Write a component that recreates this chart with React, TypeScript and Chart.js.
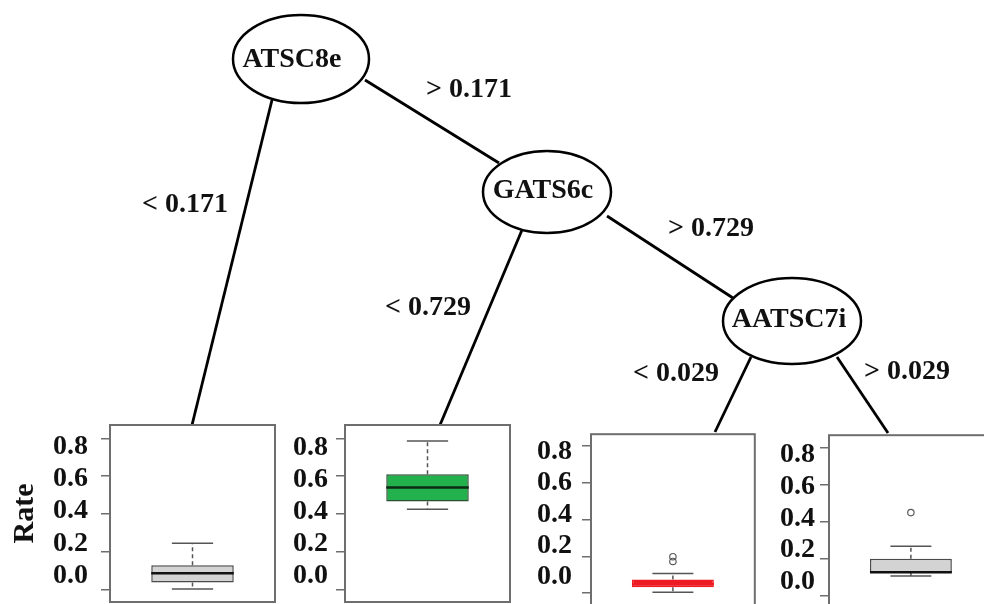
import React, { useEffect, useRef } from 'react';
import { Chart, registerables } from 'chart.js';

Chart.register(...registerables);

// ---------------- data ----------------
const splitVariables = ['ATSC8e', 'GATS6c', 'AATSC7i'];
const splitThresholds = [0.171, 0.729, 0.029];
const edgeParents = [0, 0, 1, 1, 2, 2];
const edgeSides = ['<', '>', '<', '>', '<', '>'];
const leafIds = ['Node 2', 'Node 4', 'Node 6', 'Node 7'];
const whiskerLow = [0.005, 0.426, 0.005, 0.107];
const quartile1 = [0.04, 0.467, 0.032, 0.125];
const medians = [0.088, 0.54, 0.05, 0.127];
const quartile3 = [0.13, 0.61, 0.074, 0.2];
const whiskerHigh = [0.246, 0.786, 0.106, 0.267];
const outliers: number[][] = [[], [], [0.198, 0.172], [0.449]];
const yTickValues = [0, 0.2, 0.4, 0.6, 0.8];
const yAxisTitle = 'Rate';

// ---------------- layout & style ----------------
const FONT = "'Liberation Serif', 'Times New Roman', serif";
const W = 984;
const H = 604;
const TICK = 9;
const PAD = 3;
const LABEL_SIZE = 28;

const NODE_LAYOUT = [
  { cx: 301, cy: 59, rx: 68, ry: 44, tx: 292, ty: 60 },
  { cx: 547, cy: 192, rx: 64, ry: 41, tx: 543, ty: 191 },
  { cx: 792, cy: 321, rx: 69, ry: 43, tx: 789, ty: 320 },
];

const EDGE_LAYOUT = [
  { x1: 272, y1: 100, x2: 192, y2: 425, lx: 185, ly: 205 },
  { x1: 365, y1: 80, x2: 499, y2: 163, lx: 469, ly: 90 },
  { x1: 522, y1: 230, x2: 440, y2: 425, lx: 428, ly: 308 },
  { x1: 607, y1: 216, x2: 733, y2: 298, lx: 711, ly: 229 },
  { x1: 751, y1: 357, x2: 715, y2: 432, lx: 676, ly: 374 },
  { x1: 837, y1: 357, x2: 888, y2: 433, lx: 907, ly: 372 },
];

const PANEL_LAYOUT = [
  { left: 110, top: 425, width: 165, height: 177, tick08: 438.3, tick00: 590, lab08: 447, lab00: 575.5, gap: 13, axisW: 101 },
  { left: 345, top: 425, width: 165, height: 177, tick08: 438.3, tick00: 590, lab08: 447.3, lab00: 575.7, gap: 8, axisW: 52 },
  { left: 591, top: 432, width: 166, height: 176, tick08: 444, tick00: 595, lab08: 450, lab00: 578.3, gap: 10, axisW: 52 },
  { left: 829, top: 433, width: 166, height: 177, tick08: 445.7, tick00: 597.7, lab08: 453.3, lab00: 583.3, gap: 5, axisW: 52 },
];

const PANEL_STYLE = [
  { fill: '#d3d3d3', stroke: '#4a4a4a', median: '#111111', whisker: '#555555' },
  { fill: '#22b14c', stroke: '#2b4f33', median: '#0d2a14', whisker: '#555555' },
  { fill: '#ed1c24', stroke: '#ed1c24', median: '#ed1c24', whisker: '#555555' },
  { fill: '#d3d3d3', stroke: '#4a4a4a', median: '#111111', whisker: '#555555' },
];

// ---------------- tree ----------------
function TreeChart() {
  const ref = useRef<HTMLCanvasElement>(null);
  useEffect(() => {
    if (!ref.current) return;
    const treePlugin = {
      id: 'treeNodes',
      afterDatasetsDraw(chart: any) {
        const { ctx } = chart;
        const xs = chart.scales.x;
        const ys = chart.scales.y;
        ctx.save();
        NODE_LAYOUT.forEach((n, i) => {
          const cx = xs.getPixelForValue(n.cx);
          const cy = ys.getPixelForValue(n.cy);
          const rx = Math.abs(xs.getPixelForValue(n.cx + n.rx) - cx);
          const ry = Math.abs(ys.getPixelForValue(n.cy + n.ry) - cy);
          ctx.beginPath();
          ctx.ellipse(cx, cy, rx, ry, 0, 0, Math.PI * 2);
          ctx.fillStyle = '#ffffff';
          ctx.fill();
          ctx.lineWidth = 2.5;
          ctx.strokeStyle = '#000000';
          ctx.stroke();
          ctx.fillStyle = '#111111';
          ctx.font = `bold ${LABEL_SIZE}px ${FONT}`;
          ctx.textAlign = 'center';
          ctx.textBaseline = 'middle';
          ctx.fillText(splitVariables[i], xs.getPixelForValue(n.tx), ys.getPixelForValue(n.ty));
        });
        EDGE_LAYOUT.forEach((e, i) => {
          const txt = `${edgeSides[i]} ${splitThresholds[edgeParents[i]].toFixed(3)}`;
          ctx.fillStyle = '#111111';
          ctx.font = `bold ${LABEL_SIZE}px ${FONT}`;
          ctx.textAlign = 'center';
          ctx.textBaseline = 'middle';
          ctx.fillText(txt, xs.getPixelForValue(e.lx), ys.getPixelForValue(e.ly));
        });
        ctx.restore();
      },
    };
    const datasets = EDGE_LAYOUT.map((e) => ({
      type: 'scatter' as const,
      data: [
        { x: e.x1, y: e.y1 },
        { x: e.x2, y: e.y2 },
      ],
      showLine: true,
      borderColor: '#000000',
      borderWidth: 2.8,
      pointRadius: 0,
    }));
    const chart = new Chart(ref.current, {
      type: 'scatter',
      data: { datasets },
      options: {
        responsive: false,
        animation: false,
        devicePixelRatio: 1,
        layout: { padding: 0 },
        plugins: { legend: { display: false }, tooltip: { enabled: false } },
        scales: {
          x: { type: 'linear', min: 0, max: W, display: false },
          y: { type: 'linear', min: 0, max: H, reverse: true, display: false },
        },
      } as any,
      plugins: [treePlugin],
    });
    return () => chart.destroy();
  }, []);
  return (
    <canvas
      ref={ref}
      width={W}
      height={H}
      style={{ position: 'absolute', left: 0, top: 0, width: W, height: H, display: 'block' }}
    />
  );
}

// ---------------- leaf boxplots ----------------
function LeafPanel({ i }: { i: number }) {
  const ref = useRef<HTMLCanvasElement>(null);
  const L = PANEL_LAYOUT[i];
  const S = PANEL_STYLE[i];
  const canvasLeft = L.left - TICK - L.axisW;
  const cw = L.axisW + TICK + L.width + PAD;
  const ch = L.height + 2 * PAD;

  useEffect(() => {
    if (!ref.current) return;
    const ppu = (L.tick00 - L.tick08) / 0.8;
    const yMax = 0.8 + (L.tick08 - L.top) / ppu;
    const yMin = -(L.top + L.height - L.tick00) / ppu;
    const lppu = (L.lab00 - L.lab08) / 0.8;
    const y2Max = 0.8 + (L.lab08 - L.top) / lppu;
    const y2Min = -(L.top + L.height - L.lab00) / lppu;

    const boxPlugin = {
      id: 'boxWhiskers',
      beforeDatasetsDraw(chart: any) {
        const bar = chart.getDatasetMeta(0).data[0];
        if (!bar) return;
        const ys = chart.scales.y;
        const { ctx } = chart;
        const cx = bar.x;
        const hw = bar.width / 4;
        const pHi = ys.getPixelForValue(whiskerHigh[i]);
        const pLo = ys.getPixelForValue(whiskerLow[i]);
        const pQ3 = ys.getPixelForValue(quartile3[i]);
        const pQ1 = ys.getPixelForValue(quartile1[i]);
        ctx.save();
        ctx.strokeStyle = S.whisker;
        ctx.lineWidth = 1.5;
        ctx.setLineDash([4, 3]);
        ctx.beginPath();
        ctx.moveTo(cx, pQ3);
        ctx.lineTo(cx, pHi);
        ctx.moveTo(cx, pQ1);
        ctx.lineTo(cx, pLo);
        ctx.stroke();
        ctx.setLineDash([]);
        ctx.beginPath();
        ctx.moveTo(cx - hw, pHi);
        ctx.lineTo(cx + hw, pHi);
        ctx.moveTo(cx - hw, pLo);
        ctx.lineTo(cx + hw, pLo);
        ctx.stroke();
        ctx.restore();
      },
      afterDatasetsDraw(chart: any) {
        const bar = chart.getDatasetMeta(0).data[0];
        if (!bar) return;
        const ys = chart.scales.y;
        const { ctx } = chart;
        const pm = ys.getPixelForValue(medians[i]);
        ctx.save();
        ctx.strokeStyle = S.median;
        ctx.lineWidth = 2.5;
        ctx.beginPath();
        ctx.moveTo(bar.x - bar.width / 2, pm);
        ctx.lineTo(bar.x + bar.width / 2, pm);
        ctx.stroke();
        ctx.restore();
      },
      afterDraw(chart: any) {
        const { ctx, chartArea: a } = chart;
        ctx.save();
        ctx.strokeStyle = '#6e6e6e';
        ctx.lineWidth = 2;
        ctx.strokeRect(a.left, a.top, a.right - a.left, a.bottom - a.top);
        ctx.restore();
      },
    };

    const setTicks = (s: any) => {
      s.ticks = yTickValues.map((v) => ({ value: v }));
    };
    const fitTo = (w: number) => (s: any) => {
      s.width = w;
      s.paddingTop = 0;
      s.paddingBottom = 0;
      s.paddingLeft = 0;
      s.paddingRight = 0;
    };

    const chart = new Chart(ref.current, {
      type: 'bar',
      data: {
        labels: [leafIds[i]],
        datasets: [
          {
            type: 'bar',
            data: [[quartile1[i], quartile3[i]]],
            backgroundColor: S.fill,
            borderColor: S.stroke,
            borderWidth: 1.5,
            borderSkipped: false,
            barPercentage: 0.5,
            categoryPercentage: 1,
            yAxisID: 'y',
            order: 2,
          },
          {
            type: 'scatter',
            data: outliers[i].map((v) => ({ x: 0, y: v })),
            pointRadius: 3.2,
            pointBorderWidth: 1.2,
            borderColor: '#5a5a5a',
            backgroundColor: 'rgba(0,0,0,0)',
            yAxisID: 'y',
            order: 1,
          },
        ],
      } as any,
      options: {
        responsive: false,
        animation: false,
        devicePixelRatio: 1,
        layout: { padding: { left: 0, right: PAD, top: PAD, bottom: PAD } },
        plugins: { legend: { display: false }, tooltip: { enabled: false } },
        scales: {
          x: { display: false },
          y: {
            position: 'left',
            weight: 0,
            min: yMin,
            max: yMax,
            afterBuildTicks: setTicks,
            afterFit: fitTo(TICK),
            ticks: { display: false, autoSkip: false },
            grid: { drawOnChartArea: false, drawTicks: true, tickLength: TICK, color: '#6e6e6e', lineWidth: 1.5 },
            border: { display: false },
          },
          y2: {
            position: 'left',
            weight: 1,
            min: y2Min,
            max: y2Max,
            afterBuildTicks: setTicks,
            afterFit: fitTo(L.axisW),
            ticks: {
              autoSkip: false,
              padding: L.gap,
              color: '#111111',
              font: { family: FONT, size: LABEL_SIZE, weight: 'bold' },
              callback: (v: any) => Number(v).toFixed(1),
            },
            grid: { display: false, drawTicks: false },
            border: { display: false },
            title:
              i === 0
                ? {
                    display: true,
                    text: yAxisTitle,
                    color: '#111111',
                    font: { family: FONT, size: 30, weight: 'bold' },
                    padding: { top: 7, bottom: 0 },
                  }
                : { display: false },
          },
        },
      } as any,
      plugins: [boxPlugin],
    });
    return () => chart.destroy();
  }, [i]);

  return (
    <canvas
      ref={ref}
      width={cw}
      height={ch}
      style={{ position: 'absolute', left: canvasLeft, top: L.top - PAD, width: cw, height: ch, display: 'block' }}
    />
  );
}

export default function App() {
  return (
    <div
      style={{
        position: 'fixed',
        left: 0,
        top: 0,
        width: W,
        height: H,
        overflow: 'hidden',
        background: '#ffffff',
      }}
    >
      <TreeChart />
      {leafIds.map((id, i) => (
        <LeafPanel key={id} i={i} />
      ))}
    </div>
  );
}
